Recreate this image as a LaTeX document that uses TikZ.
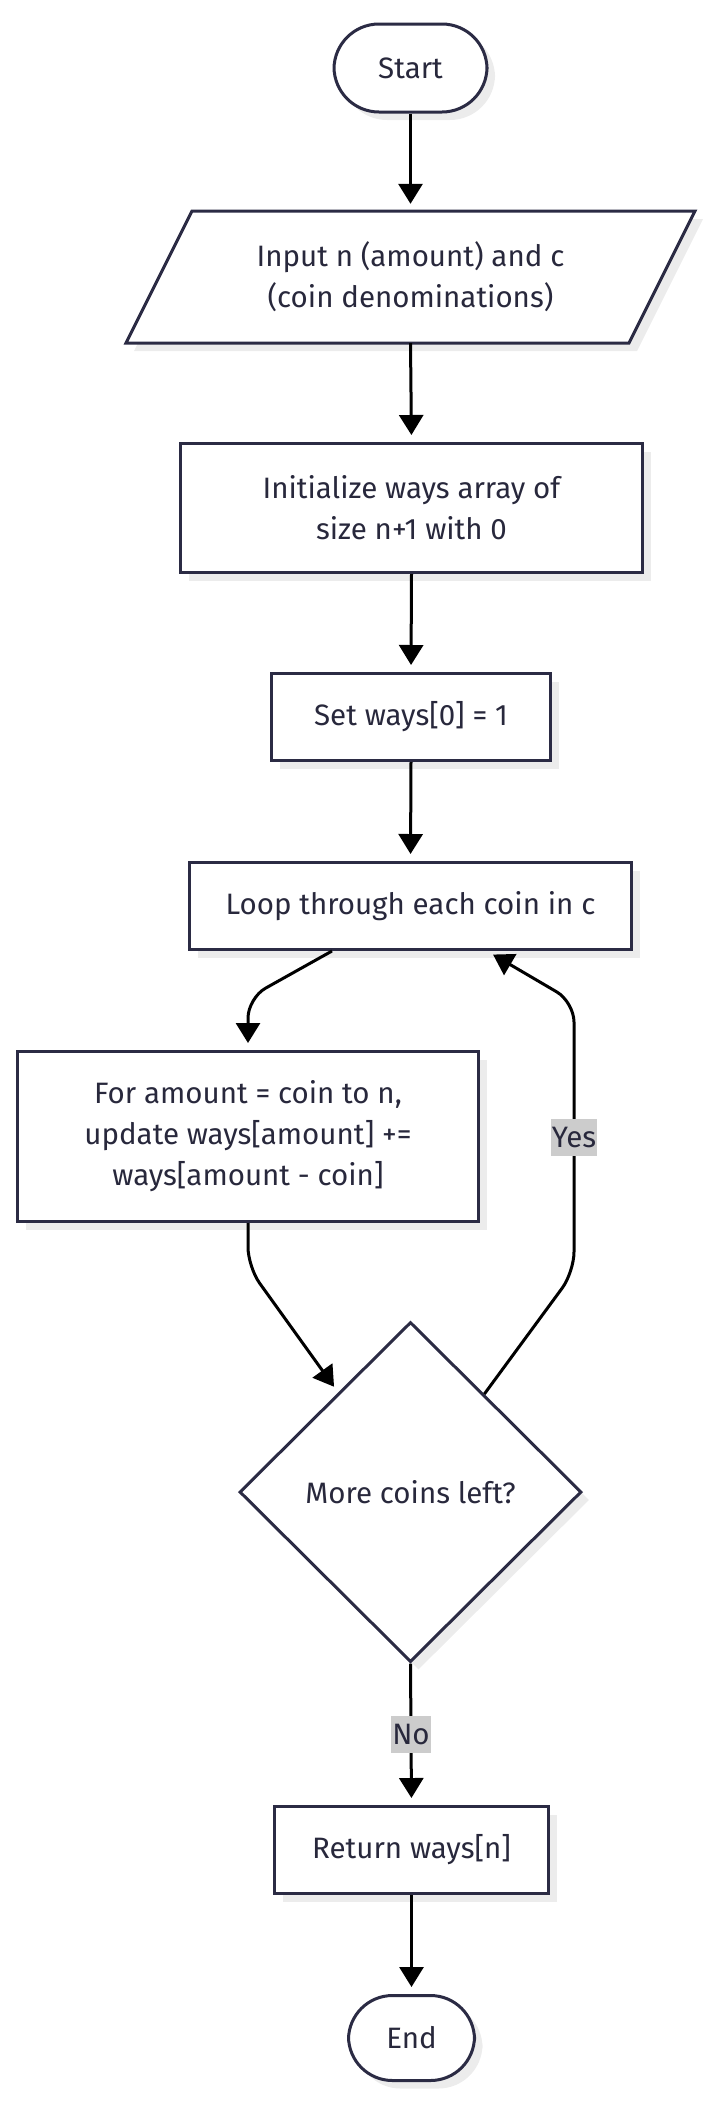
\documentclass[tikz,border=0pt]{standalone}
\usepackage{fontspec}
\setmainfont{Fira Sans}
\usetikzlibrary{arrows.meta,shapes.geometric,shadows,calc}
\definecolor{bord}{RGB}{43,43,68}
\definecolor{txt}{RGB}{40,40,60}
\definecolor{lbl}{RGB}{204,204,204}
\definecolor{shd}{RGB}{236,236,236}
\begin{document}
\begin{tikzpicture}[x=1pt,y=-1pt,
  base/.style={draw=bord, line width=3pt, fill=white, text=txt,
    font=\fontsize{29.5}{41}\selectfont, align=center, inner sep=0pt,
    drop shadow={shadow xshift=8pt, shadow yshift=-8pt, fill=shd, opacity=1}},
  boxnode/.style={base, rectangle},
  term/.style={base, rectangle},
  decision/.style={base, diamond, aspect=1},
  txtonly/.style={text=txt, font=\fontsize{29.5}{41}\selectfont, align=center, inner sep=0pt},
  arr/.style={draw=black, line width=3pt, -{Triangle[length=20pt,width=24pt]}, shorten >=7pt},
  lab/.style={sharp corners, fill=lbl, text=txt, font=\fontsize{29.5}{32}\selectfont, inner xsep=1pt, inner ysep=0pt, minimum height=37pt}
]
\useasboundingbox (0,0) rectangle (711,2107);

\node[term, rounded corners=45pt, minimum width=153pt, minimum height=88pt] (start) at (410.5,68) {Start};

% parallelogram input
\fill[shd] (200,219) -- (703,219) -- (637,351) -- (134,351) -- cycle;
\draw[draw=bord, line width=3pt, fill=white] (192,211) -- (695,211) -- (629,343) -- (126,343) -- cycle;
\node[txtonly, minimum width=437pt, minimum height=132pt] (input) at (410.5,277) {Input n (amount) and c\\(coin denominations)};

\node[boxnode, minimum width=462pt, minimum height=129pt] (init) at (411.5,508) {Initialize ways array of\\size n+1 with 0};
\node[boxnode, minimum width=279pt, minimum height=87pt] (set) at (411,717) {Set ways[0] = 1};
\node[boxnode, minimum width=442pt, minimum height=87pt] (loop) at (410.5,906) {Loop through each coin in c};
\node[boxnode, minimum width=461pt, minimum height=170pt] (for) at (248,1136.5) {For amount = coin to n,\\update ways[amount] +=\\ways[amount - coin]};
\node[decision, minimum width=342pt, minimum height=340pt] (dia) at (410.5,1492) {More coins left?};
\node[boxnode, minimum width=274pt, minimum height=87pt] (ret) at (411.5,1850) {Return ways[n]};
\node[term, rounded corners=44pt, minimum width=126pt, minimum height=85pt] (end) at (411.5,2038) {End};

\draw[arr] (start.south) -- (input.north);
\draw[arr] (input.south) -- (init.north);
\draw[arr] (init.south) -- (set.north);
\draw[arr] (set.south) -- (loop.north);
\draw[arr, rounded corners=20pt] ([xshift=-78.5pt]loop.south) -- (for.north |- 0,998) -- (for.north);
\draw[arr, rounded corners=20pt] (for.south) -- (for.south |- 0,1267) -- (dia.126);
\draw[arr, rounded corners=20pt] (dia.53) -- (574,1272) -- node[lab] {Yes} (574,1002) -- ([xshift=76.5pt]loop.south);
\draw[arr] (dia.south) -- node[lab] {No} (ret.north);
\draw[arr] (ret.south) -- (end.north);
\end{tikzpicture}
\end{document}
